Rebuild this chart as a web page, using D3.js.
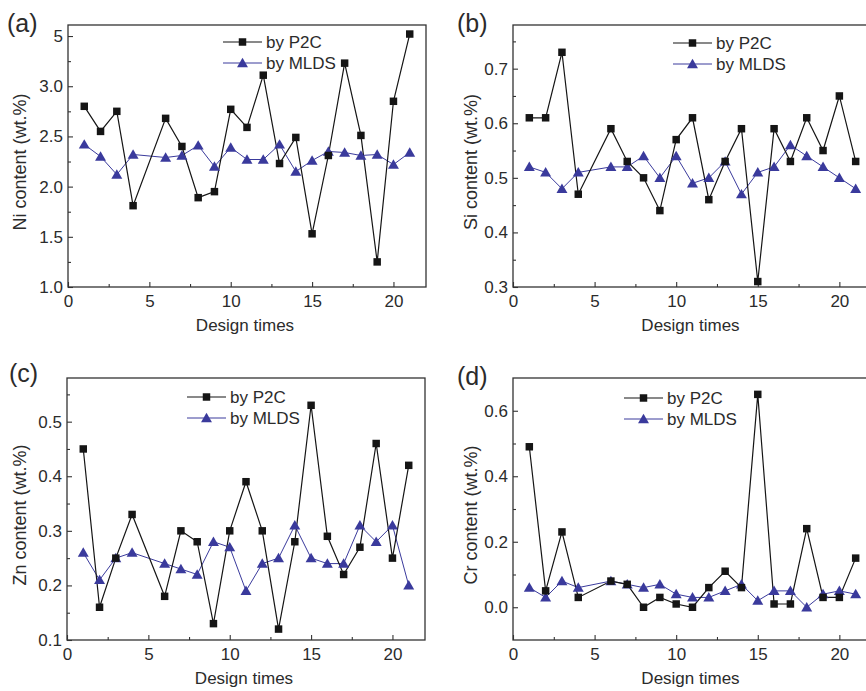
<!DOCTYPE html>
<html>
<head>
<meta charset="utf-8">
<script src="https://cdn.jsdelivr.net/npm/d3@7"></script>
<style>
  body { margin: 0; background: #fff; }
  text { font-family: "Liberation Sans", Arial, sans-serif; fill: #2b2b2b; }
</style>
</head>
<body>
<div id="chart"></div>
<script>
// design times (no run at x = 5)
const designTimes = [1, 2, 3, 4, 6, 7, 8, 9, 10, 11, 12, 13, 14, 15, 16, 17, 18, 19, 20, 21];
const xTicks = [0, 5, 10, 15, 20];

// (a) Ni
const niP2C  = [2.80, 2.55, 2.75, 1.81, 2.68, 2.40, 1.89, 1.95, 2.77, 2.59, 3.11, 2.23, 2.49, 1.53, 2.31, 3.23, 2.51, 1.25, 2.85, 3.52];
const niMLDS = [2.42, 2.30, 2.12, 2.32, 2.29, 2.31, 2.41, 2.20, 2.39, 2.27, 2.27, 2.42, 2.15, 2.26, 2.35, 2.34, 2.31, 2.32, 2.22, 2.34];
const niTicks = [1.0, 1.5, 2.0, 2.5, 3.0, 3.5];
const niTickLabels = ["1.0", "1.5", "2.0", "2.5", "3.0", "5"];

// (b) Si
const siP2C  = [0.61, 0.61, 0.73, 0.47, 0.59, 0.53, 0.50, 0.44, 0.57, 0.61, 0.46, 0.53, 0.59, 0.31, 0.59, 0.53, 0.61, 0.55, 0.65, 0.53];
const siMLDS = [0.52, 0.51, 0.48, 0.51, 0.52, 0.52, 0.54, 0.50, 0.54, 0.49, 0.50, 0.53, 0.47, 0.51, 0.52, 0.56, 0.54, 0.52, 0.50, 0.48];
const siTicks = [0.3, 0.4, 0.5, 0.6, 0.7];
const siTickLabels = ["0.3", "0.4", "0.5", "0.6", "0.7"];

// (c) Zn
const znP2C  = [0.45, 0.16, 0.25, 0.33, 0.18, 0.30, 0.28, 0.13, 0.30, 0.39, 0.30, 0.12, 0.28, 0.53, 0.29, 0.22, 0.27, 0.46, 0.25, 0.42];
const znMLDS = [0.26, 0.21, 0.25, 0.26, 0.24, 0.23, 0.22, 0.28, 0.27, 0.19, 0.24, 0.25, 0.31, 0.25, 0.24, 0.24, 0.31, 0.28, 0.31, 0.20];
const znTicks = [0.1, 0.2, 0.3, 0.4, 0.5];
const znTickLabels = ["0.1", "0.2", "0.3", "0.4", "0.5"];

// (d) Cr
const crP2C  = [0.49, 0.05, 0.23, 0.03, 0.08, 0.07, 0.00, 0.03, 0.01, 0.00, 0.06, 0.11, 0.06, 0.65, 0.01, 0.01, 0.24, 0.03, 0.03, 0.15];
const crMLDS = [0.06, 0.03, 0.08, 0.06, 0.08, 0.07, 0.06, 0.07, 0.04, 0.03, 0.03, 0.05, 0.07, 0.02, 0.05, 0.05, 0.00, 0.04, 0.05, 0.04];
const crTicks = [0.0, 0.2, 0.4, 0.6];
const crTickLabels = ["0.0", "0.2", "0.4", "0.6"];

const seriesNames = ["by P2C", "by MLDS"];

const width = 866, height = 691;
const black = "#151515", blue = "#3a3a9c";

/* panel layout */
const panels = [
  { tag: "(a)", title: "Ni content (wt.%)", p2c: niP2C, mlds: niMLDS, ticks: niTicks, labels: niTickLabels,
    y: [1.0, 3.61], minorStep: 0.25, left: 68, right: 426, top: 25, bottom: 287, ytx: -48, tagX: 7, tagY: 32, legX: 223, legY: 42 },
  { tag: "(b)", title: "Si content (wt.%)", p2c: siP2C, mlds: siMLDS, ticks: siTicks, labels: siTickLabels,
    y: [0.3, 0.78], minorStep: 0.05, left: 513, right: 872, top: 25, bottom: 287, ytx: -42, tagX: 457, tagY: 32, legX: 673, legY: 43 },
  { tag: "(c)", title: "Zn content (wt.%)", p2c: znP2C, mlds: znMLDS, ticks: znTicks, labels: znTickLabels,
    y: [0.1, 0.58], minorStep: 0.05, left: 67, right: 425, top: 378, bottom: 640, ytx: -47, tagX: 9, tagY: 382, legX: 187, legY: 397 },
  { tag: "(d)", title: "Cr content (wt.%)", p2c: crP2C, mlds: crMLDS, ticks: crTicks, labels: crTickLabels,
    y: [-0.1, 0.70], minorStep: 0.1, left: 513, right: 872, top: 378, bottom: 640, ytx: -42, tagX: 457, tagY: 385, legX: 624, legY: 398 }
];

var svg = d3.select("#chart").append("svg")
    .attr("width", width)
    .attr("height", height);

var square = d3.symbol().type(d3.symbolSquare).size(56);
var triangle = d3.symbol().type(d3.symbolTriangle).size(52);

panels.forEach(function(p) {
  var x = d3.scaleLinear().domain([0, 22]).range([p.left, p.right]);
  var y = d3.scaleLinear().domain(p.y).range([p.bottom, p.top]);
  var g = svg.append("g");

  // minor ticks
  var xMinor = d3.range(2.5, 22, 5);
  var yMinor = d3.range(p.ticks[0] + p.minorStep, p.y[1], p.minorStep)
      .filter(function(v) { return !p.ticks.some(function(t) { return Math.abs(t - v) < 1e-6; }); });
  g.append("g").attr("transform", "translate(0," + p.bottom + ")")
    .call(d3.axisBottom(x).tickValues(xMinor).tickSize(-3).tickFormat(""))
    .call(function(a) { a.select(".domain").remove(); });
  g.append("g").attr("transform", "translate(" + p.left + ",0)")
    .call(d3.axisLeft(y).tickValues(yMinor).tickSize(-3).tickFormat(""))
    .call(function(a) { a.select(".domain").remove(); });

  // major axes
  var xAxis = g.append("g").attr("transform", "translate(0," + p.bottom + ")")
    .call(d3.axisBottom(x).tickValues(xTicks).tickSize(-5).tickPadding(8).tickFormat(d3.format("d")));
  var yAxis = g.append("g").attr("transform", "translate(" + p.left + ",0)")
    .call(d3.axisLeft(y).tickValues(p.ticks).tickSize(-5).tickPadding(5)
      .tickFormat(function(d, i) { return p.labels[i]; }));
  [xAxis, yAxis].forEach(function(a) {
    a.selectAll("text").style("font-size", "17px").attr("fill", "#2b2b2b");
    a.select(".domain").remove();
  });
  g.selectAll(".tick line").attr("stroke", "#333").attr("stroke-width", 1.1);

  // frame
  g.append("rect")
    .attr("x", p.left).attr("y", p.top)
    .attr("width", p.right - p.left).attr("height", p.bottom - p.top)
    .attr("fill", "none").attr("stroke", "#333").attr("stroke-width", 1.3);

  // titles
  g.append("text")
    .attr("x", x(11) - 2)
    .attr("y", p.bottom + 44)
    .attr("text-anchor", "middle")
    .style("font-size", "17px")
    .text("Design times");
  g.append("text")
    .attr("transform", "translate(" + (p.left + p.ytx) + "," + ((p.top + p.bottom) / 2 + 6) + ") rotate(-90)")
    .attr("text-anchor", "middle")
    .attr("dy", "0.35em")
    .style("font-size", "18px")
    .text(p.title);
  g.append("text")
    .attr("x", p.tagX).attr("y", p.tagY)
    .style("font-size", "25px")
    .text(p.tag);

  // series
  var line = d3.line()
    .x(function(d) { return x(d[0]); })
    .y(function(d) { return y(d[1]); });
  var p2c = d3.zip(designTimes, p.p2c);
  var mlds = d3.zip(designTimes, p.mlds);

  g.append("path").datum(mlds)
    .attr("d", line).attr("fill", "none").attr("stroke", blue).attr("stroke-width", 1);
  g.append("path").datum(p2c)
    .attr("d", line).attr("fill", "none").attr("stroke", black).attr("stroke-width", 1.2);

  g.selectAll(".tri").data(mlds).enter().append("path")
    .attr("class", "tri")
    .attr("transform", function(d) { return "translate(" + x(d[0]) + "," + (y(d[1]) + 1) + ")"; })
    .attr("d", triangle).attr("fill", blue);
  g.selectAll(".sq").data(p2c).enter().append("path")
    .attr("class", "sq")
    .attr("transform", function(d) { return "translate(" + x(d[0]) + "," + y(d[1]) + ")"; })
    .attr("d", square).attr("fill", black);

  // legend
  var leg = g.append("g");
  [[black, square, 0], [blue, triangle, 1]].forEach(function(s) {
    var ly = p.legY + s[2] * 21;
    leg.append("line")
      .attr("x1", p.legX).attr("x2", p.legX + 39)
      .attr("y1", ly).attr("y2", ly)
      .attr("stroke", s[0]).attr("stroke-width", s[2] ? 1 : 1.2);
    leg.append("path")
      .attr("transform", "translate(" + (p.legX + 19.5) + "," + (ly + (s[2] ? 1 : 0)) + ")")
      .attr("d", s[1]).attr("fill", s[0]);
    leg.append("text")
      .attr("x", p.legX + 43).attr("y", ly)
      .attr("dy", "0.36em")
      .style("font-size", "17px")
      .text(seriesNames[s[2]]);
  });
});
</script>
</body>
</html>
